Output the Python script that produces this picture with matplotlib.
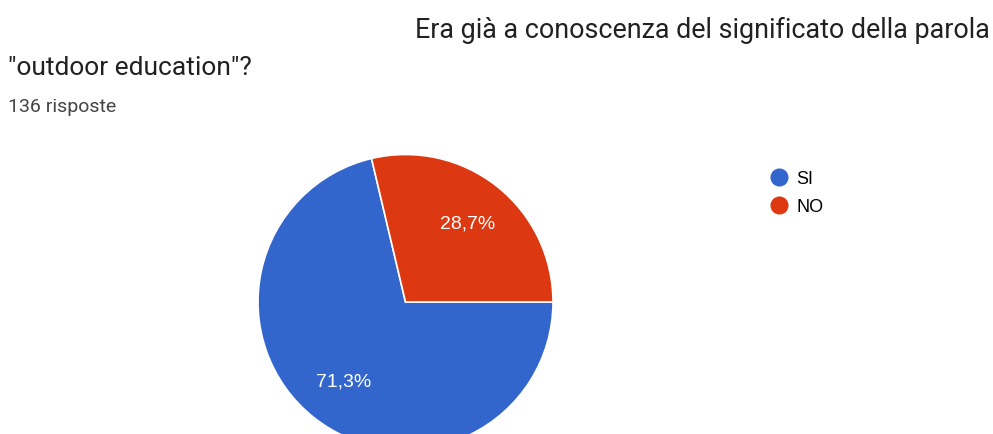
import matplotlib
matplotlib.use("Agg")
import matplotlib.pyplot as plt
from matplotlib.lines import Line2D

# Survey answers
categories = ["SI", "NO"]
shares = [71.3, 28.7]
colors = ["#3366CC", "#DC3912"]
title_line1 = "Era già a conoscenza del significato della parola"
title_line2 = "\"outdoor education\"?"
subtitle = "136 risposte"

W, H = 993, 435
fig = plt.figure(figsize=(W / 100, H / 100), dpi=100)
ax = fig.add_axes([0, 0, 1, 1])

# Pie: NO slice starts at 3 o'clock and sweeps counter-clockwise past 12 o'clock
cx, cy, r = 405.5, H - 303, 147.5
ax.pie(
    shares,
    colors=colors,
    startangle=360 * shares[1] / 100.0,
    counterclock=True,
    center=(cx, cy),
    radius=r,
    frame=True,
    autopct=lambda p: f"{p:.1f}".replace(".", ",") + "%",
    pctdistance=0.68,
    wedgeprops=dict(edgecolor="white", linewidth=1.2),
    textprops=dict(color="white", fontsize=14, family="Liberation Sans"),
)
ax.set_xlim(0, W)
ax.set_ylim(0, H)
ax.set_aspect("auto")
ax.axis("off")

# Titles
fig.text(990 / W, 1 - 38 / H, title_line1, ha="right", va="baseline",
         fontsize=19.4, family="Roboto", color="#212121")
fig.text(8 / W, 1 - 75 / H, title_line2, ha="left", va="baseline",
         fontsize=19, family="Roboto", color="#212121")
fig.text(8 / W, 1 - 112 / H, subtitle, ha="left", va="baseline",
         fontsize=14, family="Roboto", color="#444444")

# Legend
handles = [Line2D([], [], marker="o", linestyle="none", markersize=12,
                  markerfacecolor=c, markeredgecolor=c) for c in colors]
fig.legend(handles, categories, loc="upper left",
           bbox_to_anchor=(756 / W, 1 - 155 / H), frameon=False,
           handlelength=0.8, handletextpad=0.55, labelspacing=0.62,
           prop=dict(family="Liberation Sans", size=13))

fig.savefig("out.png", dpi=100)
